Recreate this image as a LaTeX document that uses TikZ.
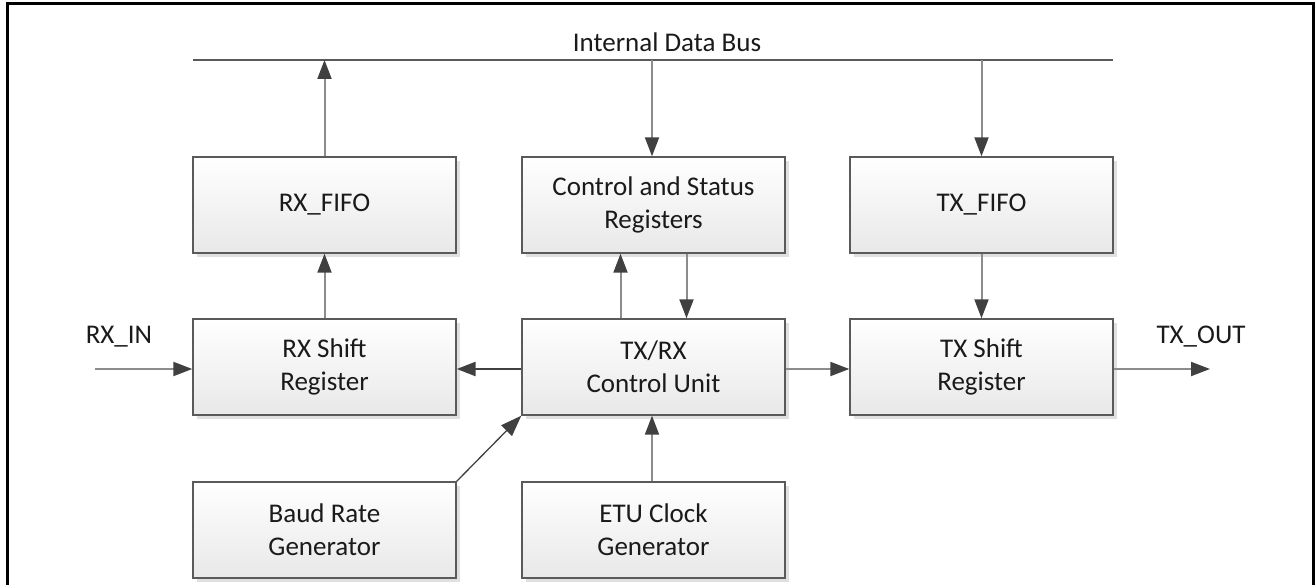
\documentclass[tikz,border=0pt]{standalone}
\usepackage{fontspec}
\setmainfont{Carlito}
\usetikzlibrary{arrows.meta,shadows}
\definecolor{linegray}{HTML}{8C8C8C}
\definecolor{darkgray}{HTML}{404040}
\definecolor{boxedge}{HTML}{5A5A5A}
\definecolor{txtcol}{HTML}{1A1A1A}
\tikzset{
  blk/.style={draw=boxedge, line width=1.4pt, top color=white, bottom color=black!9,
    minimum width=263pt, minimum height=96pt, inner sep=0pt, align=center,
    text=txtcol, font=\fontsize{27}{33}\selectfont,
    drop shadow={shadow xshift=4pt, shadow yshift=-4pt, fill=black!12, opacity=1}},
  lbl/.style={text=txtcol, font=\fontsize{27}{33}\selectfont, inner sep=0pt, anchor=base},
  conn/.style={draw=linegray, line width=2pt,
    -{Triangle[length=19pt,width=14pt,fill=darkgray,color=darkgray]}},
  darkconn/.style={draw=darkgray, line width=2.6pt,
    -{Triangle[length=19pt,width=14pt,fill=darkgray,color=darkgray]}},
  thinconn/.style={draw=darkgray, line width=1.3pt,
    -{Triangle[length=21pt,width=15pt,fill=darkgray,color=darkgray]}},
}
\begin{document}
\begin{tikzpicture}[x=1pt,y=-1pt]
\useasboundingbox (0,0) rectangle (1316,585);
% frame
\draw[black, line width=3pt] (7.5,590) -- (7.5,4) -- (1313,4) -- (1313,590);
% bus
\coordinate (busL) at (193,60);
\coordinate (busR) at (1113,60);
\coordinate (busC) at (652,60);
\draw[draw=black!65, line width=2pt] (busL) -- (busR);
\node[lbl] (buslbl) at (667,52) {Internal Data Bus};
% blocks
\node[blk] (rxfifo) at (324.5,205) {RX\_FIFO};
\node[blk] (csr) at (653.5,205) {Control and Status\\Registers};
\node[blk] (txfifo) at (981.5,205) {TX\_FIFO};
\node[blk] (rxsh) at (324.5,367) {RX Shift\\Register};
\node[blk] (cu) at (653.5,367) {TX/RX\\Control Unit};
\node[blk] (txsh) at (981.5,367) {TX Shift\\Register};
\node[blk] (baud) at (324.5,530) {Baud Rate\\Generator};
\node[blk] (etu) at (653.5,530) {ETU Clock\\Generator};
% io labels
\node[lbl] (rxinlbl) at (119,343) {RX\_IN};
\node[lbl] (txoutlbl) at (1201,343) {TX\_OUT};
\coordinate (rxin) at (95,369);
\coordinate (txout) at (1210,369);
% connectors
\draw[conn] (rxfifo.north) -- (rxfifo.north |- busL);
\draw[conn] (rxsh.north) -- (rxfifo.south);
\draw[conn] (busC) -- (busC |- csr.north);
\draw[conn] (txfifo.north |- busL) -- (txfifo.north);
\draw[conn] (txfifo.south) -- (txsh.north);
\draw[conn] ([xshift=-33pt]cu.north) -- ([xshift=-33pt]csr.south);
\draw[conn] ([xshift=33pt]csr.south) -- ([xshift=33pt]cu.north);
\draw[darkconn] ([yshift=-2pt]cu.west) -- ([yshift=-2pt]rxsh.east);
\draw[conn] ([yshift=-2pt]cu.east) -- ([yshift=-2pt]txsh.west);
\draw[conn] (rxin) -- (rxin -| rxsh.west);
\draw[conn] (txout -| txsh.east) -- (txout);
\draw[thinconn] (baud.north east) -- (cu.south west);
\draw[conn] (busC |- etu.north) -- (busC |- cu.south);
\end{tikzpicture}
\end{document}
